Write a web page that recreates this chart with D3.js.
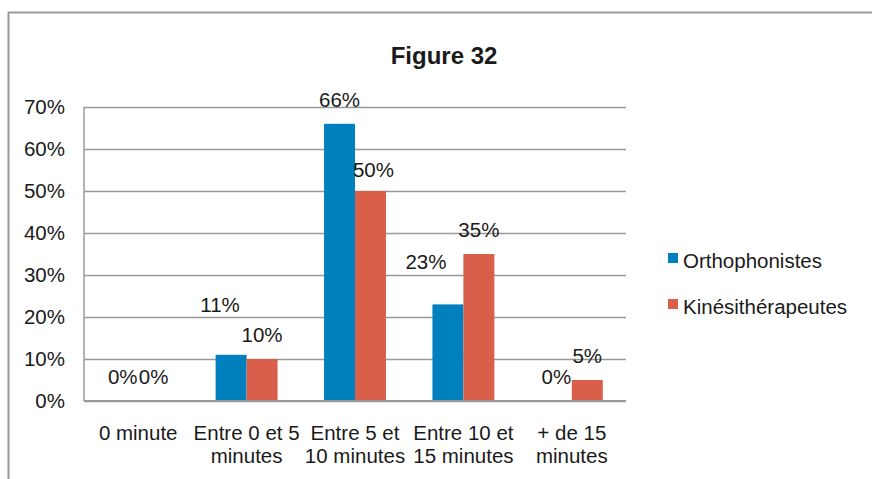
<!DOCTYPE html>
<html>
<head>
<meta charset="utf-8">
<script src="https://cdn.jsdelivr.net/npm/d3@7"></script>
<style>
  body { margin: 0; background: #fff; }
  text { font-family: "Liberation Sans", Arial, sans-serif; fill: #1a1a1a; }
</style>
</head>
<body>
<div id="chart"></div>
<script>
// data
const categories = ["0 minute", "Entre 0 et 5 minutes", "Entre 5 et 10 minutes", "Entre 10 et 15 minutes", "+ de 15 minutes"];
const categoryLines = [["0 minute"], ["Entre 0 et 5", "minutes"], ["Entre 5 et", "10 minutes"], ["Entre 10 et", "15 minutes"], ["+ de 15", "minutes"]];
const seriesNames = ["Orthophonistes", "Kinésithérapeutes"];
const orthophonistes = [0, 0.11, 0.66, 0.23, 0];
const kinesitherapeutes = [0, 0.10, 0.50, 0.35, 0.05];
const yTicks = [0, 0.1, 0.2, 0.3, 0.4, 0.5, 0.6, 0.7];

const WIDTH = 872, HEIGHT = 479;
const PAD = { left: 84, right: 246, top: 107, bottom: 78 };
const COLORS = ["#0080BD", "#DA5F4A"];
const FONT = "20.5px";

// labels that were moved by hand in the original (series, category) -> [dx, dy]
const labelNudge = { "0-1": [-11, -26], "0-3": [-22, -18], "1-2": [3, 3] };

let svg = d3.select("#chart").append("svg")
  .attr("width", WIDTH)
  .attr("height", HEIGHT);

// outer frame (only top and left visible)
svg.append("path")
  .attr("d", `M8.5,${HEIGHT} L8.5,12.5 L${WIDTH},12.5`)
  .attr("fill", "none")
  .attr("stroke", "#999")
  .attr("stroke-width", 2);

svg.append("text")
  .attr("x", 444)
  .attr("y", 64)
  .attr("text-anchor", "middle")
  .style("font-size", "24px")
  .style("font-weight", "bold")
  .text("Figure 32");

let xScale = d3.scaleBand()
  .domain(categories)
  .range([PAD.left, WIDTH - PAD.right]);

let xInner = d3.scaleBand()
  .domain(seriesNames)
  .range([0, xScale.bandwidth()])
  .paddingInner(0)
  .paddingOuter(0.75);

let yScale = d3.scaleLinear()
  .domain([0, 0.7])
  .range([HEIGHT - PAD.bottom, PAD.top]);

// gridlines
let yAxis = d3.axisLeft(yScale)
  .tickValues(yTicks)
  .tickFormat(d3.format(".0%"))
  .tickSize(-(WIDTH - PAD.right - PAD.left))
  .tickPadding(19);

let yG = svg.append("g")
  .attr("transform", `translate(${PAD.left},0)`)
  .call(yAxis);
yG.select(".domain").remove();
yG.selectAll(".tick line").attr("stroke", "#999").attr("stroke-width", 1.5);
yG.selectAll(".tick text")
  .style("font-size", FONT)
  .attr("fill", "#1a1a1a");

// left axis line
svg.append("line")
  .attr("x1", PAD.left).attr("x2", PAD.left)
  .attr("y1", yScale(0.7)).attr("y2", yScale(0))
  .attr("stroke", "#999").attr("stroke-width", 1.5);

// bars
let series = [orthophonistes, kinesitherapeutes];
series.forEach((vals, si) => {
  svg.append("g").selectAll("rect")
    .data(vals)
    .join("rect")
    .attr("x", (d, i) => xScale(categories[i]) + xInner(seriesNames[si]))
    .attr("y", d => yScale(d))
    .attr("width", xInner.bandwidth())
    .attr("height", d => yScale(0) - yScale(d))
    .attr("fill", COLORS[si]);
});

// bottom axis line over bars
svg.append("line")
  .attr("x1", PAD.left).attr("x2", WIDTH - PAD.right)
  .attr("y1", yScale(0)).attr("y2", yScale(0))
  .attr("stroke", "#999").attr("stroke-width", 2);

// value labels
series.forEach((vals, si) => {
  svg.append("g").selectAll("text")
    .data(vals)
    .join("text")
    .attr("x", (d, i) => {
      let n = labelNudge[si + "-" + i];
      return xScale(categories[i]) + xInner(seriesNames[si]) + xInner.bandwidth() / 2 + (n ? n[0] : 0);
    })
    .attr("y", (d, i) => {
      let n = labelNudge[si + "-" + i];
      return yScale(d) - 17 + (n ? n[1] : 0);
    })
    .attr("text-anchor", "middle")
    .style("font-size", FONT)
    .text(d => d3.format(".0%")(d));
});

// category labels
let xG = svg.append("g");
categoryLines.forEach((lines, i) => {
  let t = xG.append("text")
    .attr("x", xScale(categories[i]) + xScale.bandwidth() / 2)
    .attr("y", 440)
    .attr("text-anchor", "middle")
    .style("font-size", FONT);
  lines.forEach((l, j) => {
    t.append("tspan")
      .attr("x", xScale(categories[i]) + xScale.bandwidth() / 2)
      .attr("dy", j === 0 ? 0 : 23)
      .text(l);
  });
});

// legend
let legend = svg.append("g").attr("transform", "translate(668,253)");
seriesNames.forEach((name, i) => {
  legend.append("rect")
    .attr("x", 0).attr("y", i * 46)
    .attr("width", 10).attr("height", 10)
    .attr("fill", COLORS[i]);
  legend.append("text")
    .attr("x", 15).attr("y", i * 46 + 15)
    .style("font-size", FONT)
    .text(name);
});
</script>
</body>
</html>
